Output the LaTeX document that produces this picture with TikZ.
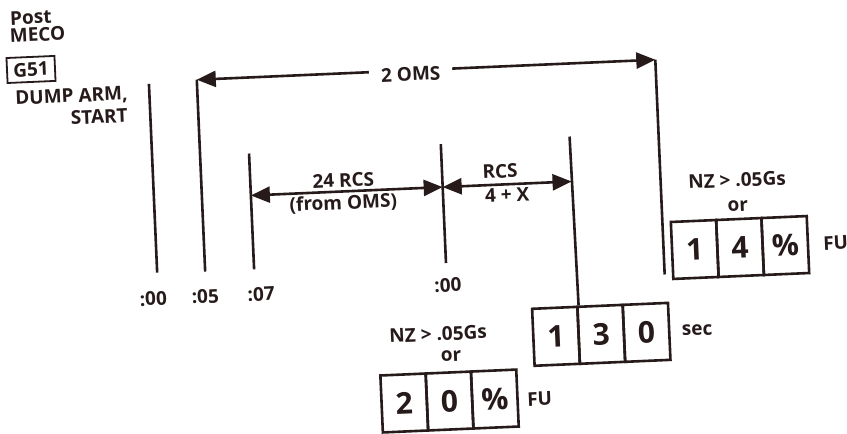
\documentclass[tikz,border=0pt]{standalone}
\usepackage{fontspec}
\setmainfont{Open Sans}
\usetikzlibrary{arrows.meta}
\definecolor{ink}{RGB}{38,26,26}
\begin{document}
\begin{tikzpicture}[x=1pt,y=-1pt,
  tl/.style={draw=ink, line width=2.6pt},
  arr/.style={{Triangle[length=19pt,width=16pt]}-{Triangle[length=19pt,width=16pt]}},
  lbl/.style={font=\fontsize{19}{22}\selectfont\bfseries, text=ink, inner sep=0pt},
  cell/.style={draw=ink, line width=2.6pt, minimum width=45.33pt, minimum height=57pt,
    inner sep=0pt, text=ink, font=\fontsize{30}{30}\selectfont\bfseries},
]
\useasboundingbox (0,0) rectangle (847,434);
\fill[white] (0,0) rectangle (847,434);
\begin{scope}[rotate around={2.5:(423,217)}, transform shape]
% top-left texts
\node[lbl, anchor=base west] (post) at (19,7.2) {Post};
\node[lbl, anchor=base west] (meco) at (18,24.6) {MECO};
\node[lbl, draw=ink, line width=1.8pt, minimum width=48pt, minimum height=25pt] (g51) at (37.8,52.5) {G51};
\node[lbl, anchor=base east] (dump) at (133.4,87.2) {DUMP ARM,};
\node[lbl, anchor=base east] (start) at (132.5,109.6) {START};
% timeline markers
\coordinate (l1t) at (155,72);  \coordinate (l1b) at (155,261);
\coordinate (l2t) at (203,70);  \coordinate (l2b) at (203,262);
\coordinate (l3t) at (252,146); \coordinate (l3b) at (252,262);
\coordinate (l4t) at (444,145); \coordinate (l4b) at (444,264);
\coordinate (l5t) at (573,143);
\coordinate (l6t) at (662,70);  \coordinate (l6b) at (662,285);
\coordinate (a1l) at (252,188); \coordinate (a1r) at (444,188);
\coordinate (a2r) at (573,188);
% boxes
\node[cell] (c14a) at (693.07,261.3) {1};
\node[cell] (c14b) at (738.4,261.3) {4};
\node[cell] (c14c) at (783.73,261.3) {\%};
\node[cell] (c130a) at (550.67,342) {1};
\node[cell] (c130b) at (596,342) {3};
\node[cell] (c130c) at (641.33,342) {0};
\node[cell] (c20a) at (396.17,402) {2};
\node[cell] (c20b) at (441.5,402) {0};
\node[cell] (c20c) at (486.83,402) {\%};
% lines
\draw[tl] (l1t) -- (l1b);
\draw[tl] (l2t) -- (l2b);
\draw[tl] (l3t) -- (l3b);
\draw[tl] (l4t) -- (l4b);
\draw[tl] (l5t) -- (c130a.north east);
\draw[tl] (l6t) -- (l6b);
\draw[tl, arr] (l2t) -- (l6t);
\draw[tl, arr] (a1l) -- (a1r);
\draw[tl, arr] (a1r) -- (a2r);
% labels
\node[lbl, anchor=base, fill=white, inner xsep=12pt, inner ysep=3pt] (oms) at (417,80.6) {2 OMS};
\node[lbl, anchor=south] (rcs24) at (345,184) {24 RCS};
\node[lbl, anchor=north] (from) at (344,191) {(from OMS)};
\node[lbl, anchor=south] (rcs) at (502,182) {RCS};
\node[lbl, anchor=north] (fourx) at (508,191.5) {4 + X};
\node[lbl] (t00) at (150,287) {:00};
\node[lbl] (t05) at (202,287) {:05};
\node[lbl] (t07) at (258,287) {:07};
\node[lbl] (t00b) at (445,286) {:00};
\node[lbl] (nz1) at (738.3,193.7) {NZ > .05Gs};
\node[lbl] (or1) at (738,219.7) {or};
\node[lbl, anchor=west] (fu1) at (821.5,261) {FU};
\node[lbl] (sec) at (692,342) {sec};
\node[lbl] (nz2) at (433,334.5) {NZ > .05Gs};
\node[lbl] (or2) at (445,357) {or};
\node[lbl, anchor=west] (fu2) at (519,404) {FU};
\end{scope}
\end{tikzpicture}
\end{document}
